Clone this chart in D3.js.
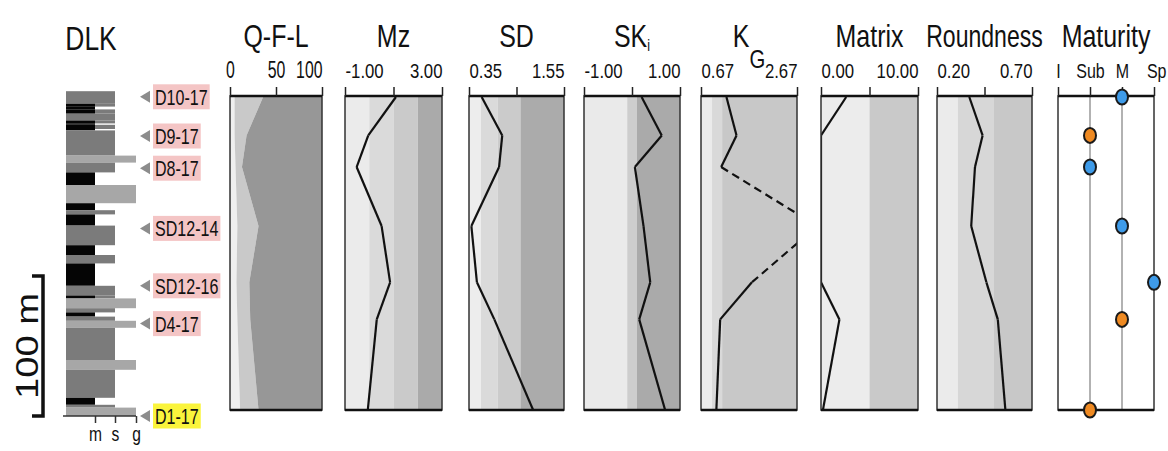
<!DOCTYPE html>
<html>
<head>
<meta charset="utf-8">
<script src="https://d3js.org/d3.v7.min.js"></script>
<style>
  body { margin: 0; background: #fff; }
  svg text { font-family: "Liberation Sans", Arial, sans-serif; fill: #111; }
</style>
</head>
<body>
<div id="chart"></div>
<script>
// samples, top of the section first; heights in m above the section base
var samples = ["D10-17", "D9-17", "D8-17", "SD12-14", "SD12-16", "D4-17", "D1-17"];
var sampleHeight = [228, 200, 177, 134, 93, 66, 0];
var highlighted = "D1-17";

// Q-F-L percentages (L is the remainder)
var qflQ = [5, 5, 6, 8, 7, 8, 11];
var qflF = [31, 13, 7, 23, 14, 14, 20];

var mz = [1.10, -0.04, -0.52, 0.51, 0.86, 0.31, -0.06];
var sd = [0.51, 0.77, 0.73, 0.38, 0.45, 0.67, 1.16];
var sk = [0.20, 0.62, 0.06, 0.24, 0.38, 0.15, 0.69];
var kg = [1.20, 1.41, 1.09, 3.09, 1.73, 1.07, 0.99];
var matrix = [2.6, 0, 0, 0, 0, 1.9, 0.2];
var roundness = [0.37, 0.44, 0.40, 0.38, 0.46, 0.52, 0.56];
var maturity = ["M", "Sub", "Sub", "M", "Sp", "M", "Sub"];
var maturityGroup = ["a", "b", "a", "a", "a", "b", "b"];
var maturityClasses = ["I", "Sub", "M", "Sp"];

// class limits shaded behind each curve
var mzBands = [-1, 0, 1, 2, 3];
var sdBands = [0.35, 0.5, 0.71, 1.0, 1.55];
var skBands = [-1, -0.1, 0.1, 1];
var kgBands = [0.67, 0.9, 1.11, 2.67];
var matrixBands = [0, 5, 10];
var roundBands = [0.2, 0.31, 0.5, 0.7];

// tick values and their labels
var qflTicks = [0, 50, 100], qflLabels = ["0", "50", "100"];
var mzTicks = [-1, 1, 3], mzLabels = ["-1.00", "", "3.00"];
var sdTicks = [0.35, 0.95, 1.55], sdLabels = ["0.35", "", "1.55"];
var skTicks = [-1, 0, 1], skLabels = ["-1.00", "", "1.00"];
var kgTicks = [0.67, 2.67], kgLabels = ["0.67", "2.67"];
var matrixTicks = [0, 5, 10], matrixLabels = ["0.00", "", "10.00"];
var roundTicks = [0.2, 0.45, 0.7], roundLabels = ["0.20", "", "0.70"];

// DLK log: [top m, base m, grain]  ms = mud with sand beside it
var layers = [
  [232, 223, "s"], [223, 221, "ms"], [221, 219, "m"], [219, 216, "ms"], [216, 211, "s"],
  [211, 209, "ms"], [209, 208, "m"], [208, 205, "ms"], [205, 204, "m"], [204, 186, "s"],
  [186, 181, "g"], [181, 174, "s"], [174, 165, "m"], [165, 152, "g"], [152, 147, "m"],
  [147, 144, "s"], [144, 136, "m"], [136, 122, "s"], [122, 115, "m"], [115, 109, "s"],
  [109, 93, "m"], [93, 86, "s"], [86, 84, "ms"], [84, 77, "g"], [77, 74, "s"],
  [74, 71, "m"], [71, 68, "s"], [68, 63, "g"], [63, 40, "s"], [40, 33, "g"],
  [33, 13, "s"], [13, 8, "m"], [8, 6, "s"], [6, 0, "g"]
];
var grainClasses = ["m", "s", "g"];

var width = 1168, height = 451;
var plotTop = 96, plotBottom = 410;

var svg = d3.select("#chart").append("svg")
    .attr("width", width)
    .attr("height", height);

// condensed look: squeeze text horizontally around its anchor
function narrow(sel, k) {
    k = k || 0.8;
    sel.each(function () {
        var t = d3.select(this);
        var x = +t.attr("x") || 0;
        t.attr("transform", "translate(" + x + ",0) scale(" + k + ",1)").attr("x", 0);
    });
}

// ---------- DLK column ----------
var colY = d3.scaleLinear().domain([0, 100]).range([416, 276]);
var colX = d3.scaleOrdinal().domain(["base", "m", "s", "g"]).range([66, 95, 115, 136]);
var grainFill = { m: "#050505", s: "#7b7b7b", g: "#a7a7a7" };

var col = svg.append("g");
layers.forEach(function (l) {
    var parts = l[2] == "ms" ? ["s", "m"] : [l[2]];
    parts.forEach(function (p) {
        col.append("rect")
            .attr("x", colX("base"))
            .attr("width", colX(p) - colX("base"))
            .attr("y", colY(l[0]))
            .attr("height", colY(l[1]) - colY(l[0]))
            .attr("fill", grainFill[p]);
    });
});

var colAxis = col.append("g")
    .attr("transform", "translate(0," + colY(0) + ")")
    .call(d3.axisBottom(colX).tickValues(grainClasses).tickSize(7).tickSizeOuter(0));
colAxis.select(".domain").attr("d", "M63,0H" + colX("g")).attr("stroke", "#333").attr("stroke-width", 1.5);
colAxis.selectAll(".tick line").attr("stroke", "#333").attr("stroke-width", 1.5);
colAxis.selectAll(".tick text").attr("y", 11).attr("font-size", 20).attr("fill", "#111")
    .call(narrow, 0.78);

svg.append("text").attr("x", 91).attr("y", 50).attr("text-anchor", "middle")
    .attr("font-size", 33).text("DLK").call(narrow, 0.8);

// 100 m scale bar
svg.append("path")
    .attr("d", "M32," + colY(100) + "H43V" + colY(0) + "H32")
    .attr("fill", "none").attr("stroke", "#111").attr("stroke-width", 3.5);
svg.append("text")
    .attr("transform", "translate(38," + ((colY(0) + colY(100)) / 2) + ") rotate(-90)")
    .attr("text-anchor", "middle")
    .attr("font-size", 32)
    .attr("textLength", 106).attr("lengthAdjust", "spacingAndGlyphs")
    .text("100 m");

// sample markers
samples.forEach(function (s, i) {
    var cy = colY(sampleHeight[i]);
    var g = svg.append("g");
    g.append("path")
        .attr("d", "M140," + cy + "L150," + (cy - 6) + "L150," + (cy + 6) + "Z")
        .attr("fill", "#8c8c8c");
    var box = g.append("rect");
    var t = g.append("text").attr("x", 155).attr("y", cy + 8)
        .attr("font-size", 22).text(s);
    var w = t.node().getComputedTextLength() * 0.73;
    t.call(narrow, 0.73);
    box.attr("x", 153).attr("y", cy - 12.5)
        .attr("width", w + 4).attr("height", 25)
        .attr("fill", s == highlighted ? "#faf43c" : "#f4c5c5");
});

// ---------- depth panels ----------
var py = d3.scaleLinear().domain([0, 228]).range([plotBottom, 97]);

var panels = [
    { title: "Q-F-L", x0: 230, x1: 322, domain: [0, 100], ticks: qflTicks, labels: qflLabels, first: "middle",
      tickFont: 24, tickScale: 0.66 },
    { title: "Mz", x0: 345, x1: 442, domain: [-1, 3], ticks: mzTicks, labels: mzLabels, values: mz,
      bands: mzBands, colors: ["#ebebeb", "#dadada", "#cacaca", "#aaaaaa"] },
    { title: "SD", x0: 469, x1: 564, domain: [0.35, 1.55], ticks: sdTicks, labels: sdLabels, values: sd,
      bands: sdBands, colors: ["#ededed", "#dadada", "#cbcbcb", "#ababab"] },
    { title: "SK", sub: "i", x0: 584, x1: 680, domain: [-1, 1], ticks: skTicks, labels: skLabels, values: sk,
      bands: skBands, colors: ["#eaeaea", "#cdcdcd", "#aaaaaa"] },
    { title: "K", sub: "G", x0: 701, x1: 797, domain: [0.67, 2.67], ticks: kgTicks, labels: kgLabels, values: kg,
      bands: kgBands, colors: ["#ebebeb", "#d9d9d9", "#c8c8c8"] },
    { title: "Matrix", x0: 821, x1: 918, domain: [0, 10], ticks: matrixTicks, labels: matrixLabels, values: matrix,
      bands: matrixBands, colors: ["#ececec", "#c9c9c9"] },
    { title: "Roundness", x0: 937, x1: 1032, domain: [0.2, 0.7], ticks: roundTicks, labels: roundLabels, values: roundness,
      bands: roundBands, colors: ["#ebebeb", "#d7d7d7", "#c8c8c8"] }
];

function drawTitle(p) {
    var cx = (p.x0 + p.x1) / 2;
    var t = svg.append("text").attr("x", cx).attr("y", 47)
        .attr("text-anchor", "middle").attr("font-size", 32);
    t.append("tspan").text(p.title);
    if (p.sub == "i") t.append("tspan").attr("font-size", 16).attr("dy", 4).text(p.sub);
    if (p.sub == "G") t.append("tspan").attr("font-size", 26).attr("dy", 21).text(p.sub);
    t.call(narrow, p.title == "Roundness" ? 0.72 : 0.78);
}

function drawAxis(p, x) {
    var ax = svg.append("g")
        .attr("transform", "translate(0," + plotTop + ")")
        .call(d3.axisTop(x).tickValues(p.ticks).tickSize(9).tickSizeOuter(0)
            .tickFormat(function (d, i) { return p.labels[i]; }));
    ax.select(".domain").remove();
    ax.selectAll(".tick line").attr("stroke", "#222").attr("stroke-width", 1.5);
    var n = p.ticks.length;
    ax.selectAll(".tick text")
        .attr("y", -18).attr("font-size", p.tickFont || 19.5).attr("fill", "#111")
        .attr("text-anchor", function (d, i) {
            if (i == 0) return p.first || "start";
            if (i == n - 1) return "end";
            return "middle";
        })
        .call(narrow, p.tickScale || 0.86);
}

function drawFrame(x0, x1) {
    svg.append("rect").attr("x", x0).attr("y", plotTop)
        .attr("width", x1 - x0).attr("height", plotBottom - plotTop)
        .attr("fill", "none").attr("stroke", "#333").attr("stroke-width", 1.5);
    svg.append("path").attr("d", "M" + x0 + "," + plotTop + "H" + x1 + "M" + x0 + "," + plotBottom + "H" + x1)
        .attr("stroke", "#111").attr("stroke-width", 2.5);
}

panels.forEach(function (p, k) {
    var x = d3.scaleLinear().domain(p.domain).range([p.x0, p.x1]);
    var g = svg.append("g");

    if (p.bands) {
        g.selectAll("rect").data(d3.pairs(p.bands)).join("rect")
            .attr("x", function (d) { return x(d[0]); })
            .attr("width", function (d) { return x(d[1]) - x(d[0]); })
            .attr("y", plotTop).attr("height", plotBottom - plotTop)
            .attr("fill", function (d, i) { return p.colors[i]; });
    }

    if (p.title == "Q-F-L") {
        var rows = samples.map(function (s, i) {
            return { h: sampleHeight[i], Q: qflQ[i], F: qflF[i], L: 100 - qflQ[i] - qflF[i] };
        });
        var stack = d3.stack().keys(["Q", "F", "L"])(rows);
        var fills = ["#efefef", "#c9c9c9", "#979797"];
        var area = d3.area()
            .y(function (d) { return py(d.data.h); })
            .x0(function (d) { return x(d[0]); })
            .x1(function (d) { return x(d[1]); });
        g.selectAll("path").data(stack).join("path")
            .attr("d", area).attr("fill", function (d, i) { return fills[i]; });
    }

    if (p.values) {
        var clipId = "clip" + k;
        svg.append("clipPath").attr("id", clipId).append("rect")
            .attr("x", p.x0).attr("y", plotTop).attr("width", p.x1 - p.x0).attr("height", plotBottom - plotTop);
        var pts = p.values.map(function (v, i) { return [x(v), py(sampleHeight[i]), v]; });
        var line = d3.line().x(function (d) { return d[0]; }).y(function (d) { return d[1]; });
        d3.pairs(pts).forEach(function (pr) {
            var out = pr.some(function (d) { return d[2] > p.domain[1] || d[2] < p.domain[0]; });
            g.append("path").attr("d", line(pr))
                .attr("clip-path", "url(#" + clipId + ")")
                .attr("fill", "none").attr("stroke", "#111").attr("stroke-width", 2.2)
                .attr("stroke-linejoin", "round")
                .attr("stroke-dasharray", out ? "8,5" : null);
        });
    }

    drawFrame(p.x0, p.x1);
    drawAxis(p, x);
    drawTitle(p);
});

// ---------- Maturity ----------
var mx = d3.scalePoint().domain(maturityClasses).range([1058, 1154]);
var mg = svg.append("g");
mg.append("rect").attr("x", mx("I")).attr("y", plotTop)
    .attr("width", mx("Sp") - mx("I")).attr("height", plotBottom - plotTop).attr("fill", "#fff");
mg.selectAll(".guide").data(["Sub", "M"]).join("line")
    .attr("x1", mx).attr("x2", mx).attr("y1", plotTop).attr("y2", plotBottom)
    .attr("stroke", "#999").attr("stroke-width", 1.5);
drawFrame(mx("I"), mx("Sp"));
var max = svg.append("g")
    .attr("transform", "translate(0," + plotTop + ")")
    .call(d3.axisTop(mx).tickSize(9).tickSizeOuter(0));
max.select(".domain").remove();
max.selectAll(".tick line").attr("stroke", "#222").attr("stroke-width", 1.5);
max.selectAll(".tick text").attr("y", -18).attr("font-size", 20).attr("fill", "#111")
    .attr("text-anchor", function (d) { return d == "Sp" ? "end" : "middle"; })
    .attr("x", function (d) { return d == "Sp" ? 12 : 0; })
    .call(narrow, 0.8);
drawTitle({ title: "Maturity", x0: mx("I"), x1: mx("Sp") });

var groupFill = { a: "#3e9be9", b: "#ef8a22" };
svg.append("g").selectAll("ellipse").data(samples).join("ellipse")
    .attr("cx", function (d, i) { return mx(maturity[i]); })
    .attr("cy", function (d, i) { return py(sampleHeight[i]); })
    .attr("rx", 6).attr("ry", 7.5)
    .attr("fill", function (d, i) { return groupFill[maturityGroup[i]]; })
    .attr("stroke", "#1a1a1a").attr("stroke-width", 2);
</script>
</body>
</html>
